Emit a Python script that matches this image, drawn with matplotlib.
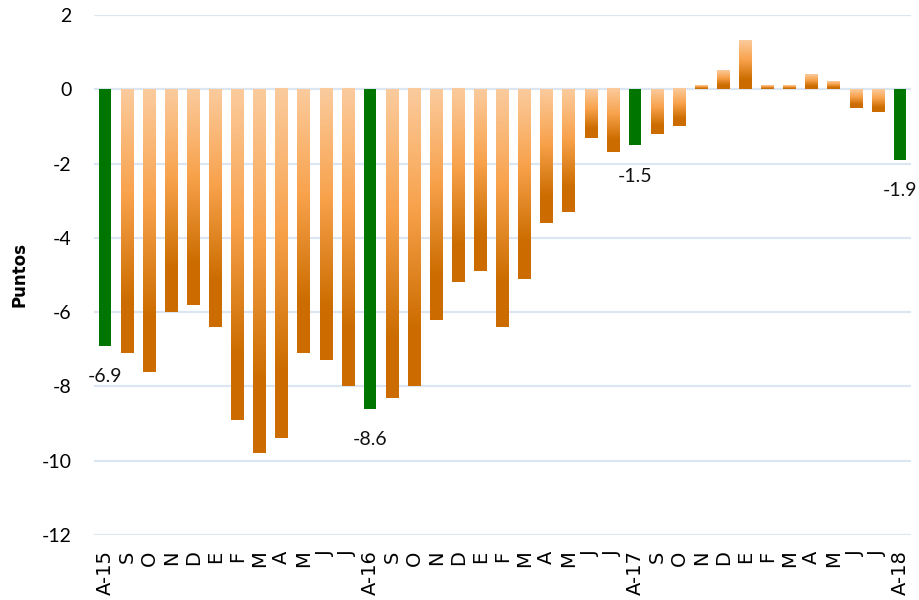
import numpy as np
import matplotlib.pyplot as plt
from matplotlib.colors import LinearSegmentedColormap

# ─── Data ─────────────────────────────────────────────────────────────────────

MONTHS = ['A-15', 'S', 'O', 'N', 'D', 'E', 'F', 'M', 'A', 'M', 'J', 'J',
          'A-16', 'S', 'O', 'N', 'D', 'E', 'F', 'M', 'A', 'M', 'J', 'J',
          'A-17', 'S', 'O', 'N', 'D', 'E', 'F', 'M', 'A', 'M', 'J', 'J',
          'A-18']

VALUES = [-6.9, -7.1, -7.6, -6.0, -5.8, -6.4, -8.9, -9.8, -9.4, -7.1, -7.3, -8.0,
          -8.6, -8.3, -8.0, -6.2, -5.2, -4.9, -6.4, -5.1, -3.6, -3.3, -1.3, -1.7,
          -1.5, -1.2, -1.0, 0.1, 0.5, 1.3, 0.1, 0.1, 0.4, 0.2, -0.5, -0.6,
          -1.9]

HIGHLIGHT = ['A-15', 'A-16', 'A-17', 'A-18']   # August bars, labelled, in green

Y_TICKS = [2, 0, -2, -4, -6, -8, -10, -12]

GREEN = '#007500'
GRID = '#DCE6F2'
orange_cmap = LinearSegmentedColormap.from_list(
    'orange_grad',
    [(0.0, '#FBCB9D'), (0.4, '#F8A24C'), (0.8, '#CC6D00'), (1.0, '#CC6C00')])

# ─── Plot ─────────────────────────────────────────────────────────────────────

fig = plt.figure(figsize=(9.2, 6.0), dpi=100)
ax = fig.add_axes([94 / 920, 65 / 600, (911 - 94) / 920, 520 / 600])

x = np.arange(len(VALUES))
highlight = [m in HIGHLIGHT for m in MONTHS]
colors = [GREEN if h else 'none' for h in highlight]
bars = ax.bar(x, VALUES, width=0.57, color=colors, zorder=3)

# gradient fill for the orange bars, top light -> bottom dark
grad = np.linspace(0, 1, 256).reshape(-1, 1)
for rect, h in zip(bars, highlight):
    if h:
        continue
    x0, y0 = rect.get_x(), rect.get_y()
    w, hgt = rect.get_width(), rect.get_height()
    ax.imshow(grad, extent=(x0, x0 + w, min(y0, y0 + hgt), max(y0, y0 + hgt)),
              aspect='auto', cmap=orange_cmap, origin='upper', zorder=3,
              interpolation='bilinear')

# value labels under the August bars
for xi, v, h in zip(x, VALUES, highlight):
    if h:
        ax.annotate(f"{v:.1f}", (xi, v), xytext=(0, -31),
                    textcoords='offset pixels', ha='center', va='center',
                    fontsize=14, family='Lato', color='#111111')

ax.set_xlim(-0.5, len(VALUES) - 0.5)
ax.set_ylim(-12, 2)
ax.set_yticks(Y_TICKS)
ax.set_yticklabels([str(t) for t in Y_TICKS], family='Lato', fontsize=14)
ax.set_xticks(x)
ax.set_xticklabels(MONTHS, rotation=90, family='DejaVu Sans', fontsize=14)
ax.tick_params(axis='both', length=0)
ax.tick_params(axis='y', pad=16)
ax.tick_params(axis='x', pad=11)

ax.yaxis.grid(True, color=GRID, linewidth=1.6, zorder=0)
ax.set_axisbelow(True)
for s in ax.spines.values():
    s.set_visible(False)

fig.text(20 / 920, 1 - 275 / 600, 'Puntos', rotation=90, ha='center',
         va='center', fontsize=12, fontweight='bold', family='DejaVu Sans')

fig.savefig('out.png', dpi=100)
